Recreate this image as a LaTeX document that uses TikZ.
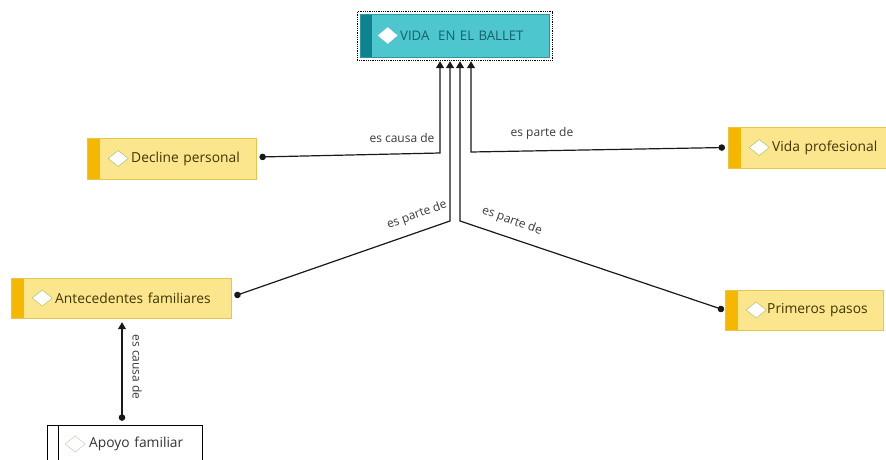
\documentclass[tikz,border=0pt]{standalone}
\usepackage{fontspec}
\setmainfont{Open Sans}
\usetikzlibrary{arrows.meta,calc,positioning}

\definecolor{ideafill}{HTML}{FBE68E}
\definecolor{idealine}{HTML}{E7C44B}
\definecolor{ideastripe}{HTML}{F5B700}
\definecolor{ideatext}{HTML}{3F3500}
\definecolor{gemline}{HTML}{9CBB5A}
\definecolor{rootfill}{HTML}{4EC6CE}
\definecolor{rootline}{HTML}{2B98A2}
\definecolor{rootstripe}{HTML}{0E8390}
\definecolor{roottext}{HTML}{17606A}
\definecolor{linktext}{HTML}{3A3A3A}
\definecolor{leafgem}{HTML}{A8D0A0}

\newcommand{\ideagap}{44pt}
\tikzset{
  gap/.store in=\ideagap,
  idea/.style={rectangle, draw=idealine, fill=ideafill, text=ideatext,
    inner xsep=0pt, inner ysep=0pt, minimum height=41pt, text width=#1,
    align=left, font=\fontsize{13.8}{15}\selectfont,
    execute at begin node={\hspace*{\ideagap}},
    path picture={
      \fill[ideastripe] (path picture bounding box.north west)
        rectangle ([xshift=13pt]path picture bounding box.south west);
      \draw[gemline, fill=white] ([xshift=21pt]path picture bounding box.west)
        -- ++(10,-8) -- ++(10,8) -- ++(-10,8) -- cycle;
    }},
  rootidea/.style={idea=#1, gap=40pt, draw=rootline, fill=rootfill, text=roottext,
    minimum height=43pt, font=\fontsize{13.2}{15}\selectfont,
    path picture={
      \fill[rootstripe] (path picture bounding box.north west)
        rectangle ([xshift=12pt]path picture bounding box.south west);
      \draw[white, fill=white] ([xshift=18pt]path picture bounding box.west)
        -- ++(9.5,-8) -- ++(9.5,8) -- ++(-9.5,8) -- cycle;
    }},
  leafidea/.style={idea=#1, gap=42pt, draw=black, fill=white, text=black!80,
    minimum height=38pt,
    path picture={
      \draw[black] ([xshift=11pt]path picture bounding box.north west)
        -- ([xshift=11pt]path picture bounding box.south west);
      \draw[leafgem, fill=white] ([xshift=18pt]path picture bounding box.west)
        -- ++(10,-8) -- ++(10,8) -- ++(-10,8) -- cycle;
    }},
  link/.style={draw=black!90, line width=1.2pt,
    {Circle[length=6.5pt]}-{Triangle[width=8pt,length=7pt]}},
  linklabel/.style={text=linktext, font=\fontsize{12}{13}\selectfont, inner sep=1pt},
}

\begin{document}
\begin{tikzpicture}[x=1pt,y=-1pt]
  \useasboundingbox[fill=white] (0,0) rectangle (886,460);

  % concepts
  \node[rootidea=189pt, anchor=west] (ballet) at (360,35.5) {VIDA\ \ EN EL BALLET};
  \draw[black, densely dotted, line width=0.8pt]
    ([shift={(-3pt,2pt)}]ballet.north west) rectangle ([shift={(3pt,-3pt)}]ballet.south east);
  \node[idea=169pt, anchor=west] (decline) at (87,158.5) {Decline personal};
  \node[idea=165pt, anchor=west] (profesional) at (728,147.5) {Vida profesional};
  \node[idea=220pt, anchor=west, minimum height=40pt] (antecedentes) at (11,298) {Antecedentes familiares};
  \node[idea=158pt, anchor=west, minimum height=40pt, gap=42pt] (primeros) at (725,310) {Primeros pasos};
  \node[leafidea=155pt, anchor=west] (apoyo) at (47,444) {Apoyo familiar};

  % bends
  \coordinate (b1) at (440,153);
  \coordinate (b2) at (450,221);
  \coordinate (b3) at (460,221);
  \coordinate (b4) at (471,152);

  % links
  \draw[link] ([xshift=3pt,yshift=1.5pt]decline.east) -- (b1) -- ($(b1 |- ballet.south)+(0,4)$);
  \draw[link] ([xshift=3pt,yshift=2pt]antecedentes.east) -- (b2) -- ($(b2 |- ballet.south)+(0,4)$);
  \draw[link] ([xshift=-1pt]primeros.west) -- (b3) -- ($(b3 |- ballet.south)+(0,4)$);
  \draw[link] ([xshift=-3pt]profesional.west) -- (b4) -- ($(b4 |- ballet.south)+(0,4)$);
  \draw[link] ([yshift=4pt]apoyo.north -| 122,0) -- ($(antecedentes.south -| 122,0)+(0,4)$);

  % link labels
  \node[linklabel] (l1) at (402,138) {es causa de};
  \node[linklabel] (l2) at (542,133) {es parte de};
  \node[linklabel, rotate=20] (l3) at (417,215) {es parte de};
  \node[linklabel, rotate=-20] (l4) at (512,221) {es parte de};
  \node[linklabel, rotate=-90] (l5) at (137,367) {es causa de};
\end{tikzpicture}
\end{document}
